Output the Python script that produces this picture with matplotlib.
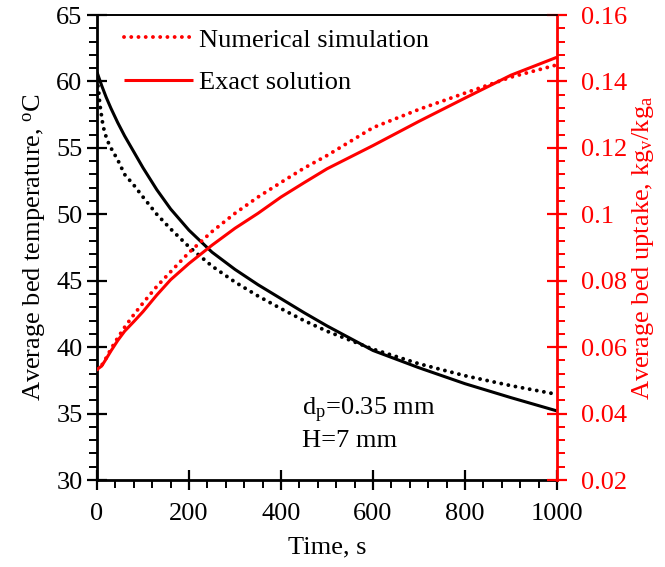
import matplotlib
matplotlib.use("Agg")
import matplotlib.pyplot as plt
from matplotlib.ticker import MultipleLocator, FixedLocator

plt.rcParams["font.family"] = ["Liberation Serif", "DejaVu Serif"]
plt.rcParams["mathtext.fontset"] = "custom"
plt.rcParams["mathtext.rm"] = "Liberation Serif"
plt.rcParams["mathtext.it"] = "Liberation Serif:italic"

# Exact solution: time [s], bed temperature [C], bed uptake [kg_v/kg_a]
t_exact = [0, 10, 20, 30, 45, 60, 80, 100, 130, 160, 200, 250, 300, 350,
           400, 450, 500, 600, 700, 800, 900, 1000]
temp_exact = [60.7, 59.7, 58.8, 58.0, 56.9, 55.9, 54.7, 53.5, 51.85, 50.4,
              48.8, 47.15, 45.85, 44.7, 43.65, 42.6, 41.6, 39.75, 38.45,
              37.25, 36.2, 35.2]
uptake_exact = [0.0533, 0.0543, 0.0565, 0.0588, 0.0620, 0.0648, 0.0677,
                0.0707, 0.0757, 0.0803, 0.0852, 0.0907, 0.0958, 0.1003,
                0.1052, 0.1095, 0.1137, 0.1207, 0.1280, 0.1350, 0.1419,
                0.1473]

# Numerical simulation
t_num_temp = [0, 4, 6, 9, 12, 15, 20, 27, 35, 45, 60, 80, 100, 130, 160,
              200, 250, 300, 350, 400, 450, 500, 600, 700, 800, 900, 1000]
temp_num = [60.2, 59.1, 58.3, 57.6, 56.9, 56.4, 55.8, 55.2, 54.7, 54.1,
            53.0, 52.2, 51.3, 50.0, 48.9, 47.55, 46.1, 44.9, 43.85, 42.9,
            42.0, 41.2, 39.85, 38.75, 37.85, 37.1, 36.45]
t_num_uptake = [0, 10, 20, 30, 45, 60, 80, 100, 130, 160, 200, 250, 300,
                350, 400, 450, 500, 600, 700, 800, 900, 1000]
uptake_num = [0.0533, 0.0545, 0.0568, 0.0594, 0.0628, 0.0660, 0.0698,
              0.0733, 0.0783, 0.0827, 0.0885, 0.0948, 0.1003, 0.1052,
              0.1096, 0.1139, 0.1177, 0.1261, 0.1316, 0.1365, 0.1413,
              0.1450]

FS = 19
RED = "#ff0000"
dotted = (0, (0.01, 1.85))

fig = plt.figure(figsize=(6.65, 5.67), dpi=100)
ax = fig.add_axes([0.1459, 0.1534, 0.8376 - 0.1459, 0.9735 - 0.1534])
ax2 = ax.twinx()

ax.plot(t_exact, temp_exact, color="black", lw=2.2, solid_capstyle="butt")
ax.plot(t_num_temp, temp_num, color="black", lw=2.8, linestyle=dotted,
        dash_capstyle="round")
l_num, = ax2.plot(t_num_uptake, uptake_num, color=RED, lw=2.8,
                  linestyle=dotted, dash_capstyle="round",
                  label="Numerical simulation")
l_ex, = ax2.plot(t_exact, uptake_exact, color=RED, lw=2.2,
                 solid_capstyle="butt", label="Exact solution")

ax.set_xlim(0, 1000)
ax.set_ylim(30, 65)
ax2.set_ylim(0.02, 0.16)

ax.xaxis.set_major_locator(MultipleLocator(200))
ax.xaxis.set_minor_locator(MultipleLocator(40))
ax.yaxis.set_major_locator(MultipleLocator(5))
ax.yaxis.set_minor_locator(MultipleLocator(1))
ax2.yaxis.set_major_locator(FixedLocator([0.02, 0.04, 0.06, 0.08, 0.10,
                                          0.12, 0.14, 0.16]))
ax2.yaxis.set_minor_locator(MultipleLocator(0.004))
ax2.set_yticklabels(["0.02", "0.04", "0.06", "0.08", "0.1", "0.12",
                     "0.14", "0.16"])

for a in (ax, ax2):
    a.tick_params(which="major", direction="inout", length=15, width=1.6,
                  labelsize=FS)
    a.tick_params(which="minor", direction="out", length=6, width=1.4)
ax.tick_params(axis="x", which="major", pad=9)
ax.tick_params(axis="y", which="major", pad=3)
ax.tick_params(top=False, right=False, which="both")
ax2.tick_params(axis="y", which="both", colors=RED)
ax2.tick_params(axis="y", which="major", pad=10)

for s in ("left", "bottom"):
    ax.spines[s].set_linewidth(2.0)
ax.spines["top"].set_linewidth(1.2)
ax.spines["right"].set_visible(False)
ax2.spines["right"].set_color(RED)
ax2.spines["right"].set_linewidth(2.0)
ax2.spines["top"].set_linewidth(1.2)
for s in ("left", "bottom"):
    ax2.spines[s].set_visible(False)

ax.set_xlabel("Time, s", fontsize=FS, labelpad=8)
ax.set_ylabel("Average bed temperature, $^{\\mathrm{o}}$C", fontsize=FS,
              labelpad=6)
ax2.set_ylabel("Average bed uptake, kg$_{\\mathrm{v}}$/kg$_{\\mathrm{a}}$",
               fontsize=FS, color=RED, labelpad=2)

ax.text(445, 35.2, "d$_{\\mathrm{p}}$=0.35 mm", fontsize=FS, va="center",
        ha="left")
ax.text(445, 32.9, "H=7 mm", fontsize=FS, va="center", ha="left")

ax2.legend(handles=[l_num, l_ex], loc="upper left", frameon=False,
           fontsize=FS, handlelength=2.6, handletextpad=0.25,
           borderaxespad=0.2, borderpad=0.3, labelspacing=0.72,
           bbox_to_anchor=(0.03, 1.0))

fig.savefig("out.png", dpi=100)
